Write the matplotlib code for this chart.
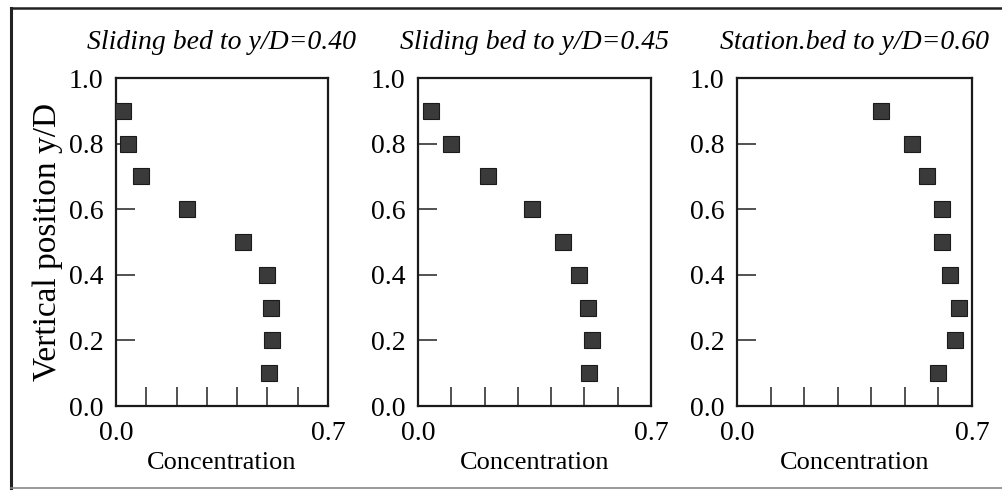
import matplotlib
matplotlib.use('Agg')
import numpy as np
import matplotlib.pyplot as plt
from matplotlib.lines import Line2D
from matplotlib.ticker import FixedLocator

plt.rcParams['font.family'] = ['Liberation Serif', 'DejaVu Serif']

# vertical positions y/D (same for all three runs)
y_pos = [0.9, 0.8, 0.7, 0.6, 0.5, 0.4, 0.3, 0.2, 0.1]

# concentrations
conc_slide_040 = [0.022, 0.039, 0.083, 0.233, 0.419, 0.497, 0.511, 0.516, 0.506]
conc_slide_045 = [0.04, 0.10, 0.21, 0.343, 0.437, 0.484, 0.51, 0.524, 0.515]
conc_station_060 = [0.43, 0.52, 0.565, 0.61, 0.612, 0.633, 0.662, 0.65, 0.598]

titles = ['Sliding bed to y/D=0.40',
          'Sliding bed to y/D=0.45',
          'Station.bed to y/D=0.60']
series = [conc_slide_040, conc_slide_045, conc_station_060]

y_ticks = [0.0, 0.2, 0.4, 0.6, 0.8, 1.0]
x_ticks = [0.0, 0.7]
x_minor = [0.1, 0.2, 0.3, 0.4, 0.5, 0.6]

W, H = 1003, 493
fig = plt.figure(figsize=(W / 100, H / 100), dpi=100)

# axes boxes in pixels: left, right, top, bottom
boxes = [(116, 328, 78, 406), (418, 651, 78, 406), (737, 972, 78, 406)]

for i, (title, conc) in enumerate(zip(titles, series)):
    l, r, t, b = boxes[i]
    ax = fig.add_axes([l / W, 1 - b / H, (r - l) / W, (b - t) / H])
    ax.plot(conc, y_pos, linestyle='none', marker='s', markersize=11,
            markerfacecolor='#3a3a3a', markeredgecolor='#1a1a1a',
            markeredgewidth=0.8, clip_on=False, zorder=5)
    ax.set_xlim(0, 0.7)
    ax.set_ylim(0, 1.0)
    ax.set_xticks(x_ticks)
    ax.set_xticklabels(['0.0', '0.7'])
    ax.xaxis.set_minor_locator(FixedLocator(x_minor))
    ax.set_yticks(y_ticks)
    ax.set_yticklabels(['%.1f' % v for v in y_ticks])
    ax.tick_params(axis='both', which='both', direction='in', length=14,
                   width=1.1, color='#222222', labelsize=20, top=False,
                   right=False)
    ax.tick_params(axis='x', which='major', pad=11)
    ax.tick_params(axis='y', which='major', pad=9)
    for s in ax.spines.values():
        s.set_linewidth(1.6)
        s.set_color('#1a1a1a')
    ax.set_xlabel('Concentration', fontsize=19, labelpad=4)
    ax.set_title(title, fontsize=20, style='italic', pad=21)
    if i == 0:
        ax.set_ylabel('Vertical position y/D', fontsize=24, labelpad=4)

# outer frame of the scanned figure
fig.add_artist(Line2D([11 / W, 11 / W], [1 - 8 / H, 1 - 488 / H],
                      color='#222222', lw=2.2, transform=fig.transFigure))
fig.add_artist(Line2D([11 / W, 1.0], [1 - 8 / H, 1 - 8 / H],
                      color='#222222', lw=1.8, transform=fig.transFigure))
fig.add_artist(Line2D([11 / W, 1.0], [1 - 488 / H, 1 - 488 / H],
                      color='#888888', lw=1.2, transform=fig.transFigure))

fig.savefig('out.png', dpi=100)
